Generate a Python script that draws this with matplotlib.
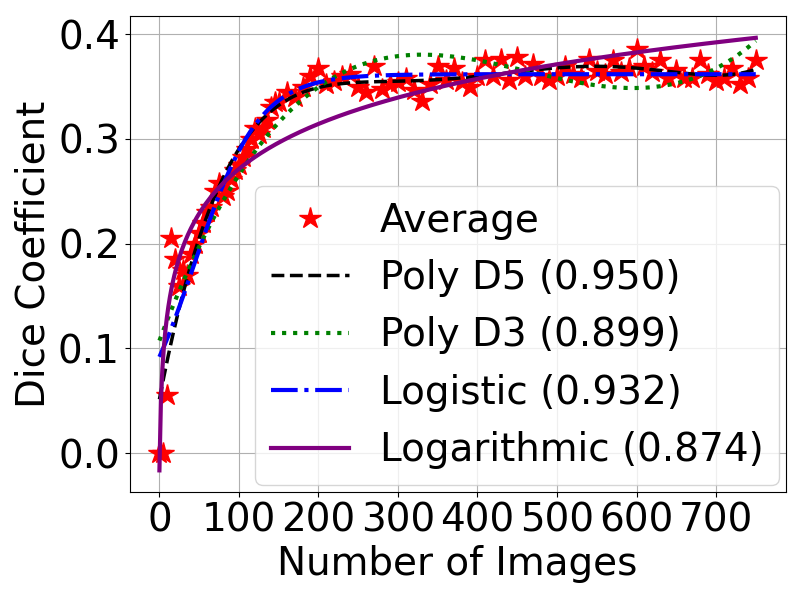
import numpy as np
import matplotlib
matplotlib.use("Agg")
import matplotlib.pyplot as plt

# average dice per number of training images
images_early = [0, 5, 10, 15, 20, 25, 30, 35, 40, 45, 50, 55, 60, 65, 70,
                75, 80, 85, 90, 95, 100, 105, 110, 115, 120, 125, 130, 135, 140, 145]
dice_early = [0.0, 0.0, 0.055, 0.205, 0.185, 0.16, 0.175, 0.17, 0.19, 0.20,
              0.21, 0.22, 0.23, 0.235, 0.25, 0.258, 0.245, 0.25, 0.262, 0.27,
              0.275, 0.283, 0.29, 0.30, 0.31, 0.305, 0.31, 0.318, 0.33, 0.335]

images_late = list(range(150, 751, 10))
dice_late = [0.335, 0.345, 0.34, 0.35, 0.36, 0.368, 0.352, 0.355, 0.36, 0.362,
             0.35, 0.345, 0.37, 0.348, 0.352, 0.354, 0.358, 0.347, 0.336, 0.352,
             0.37, 0.356, 0.368, 0.354, 0.35, 0.36, 0.375, 0.36, 0.376, 0.356,
             0.378, 0.36, 0.372, 0.36, 0.356, 0.36, 0.37, 0.362, 0.358, 0.376,
             0.365, 0.362, 0.375, 0.364, 0.368, 0.386, 0.37, 0.364, 0.375, 0.358,
             0.366, 0.358, 0.358, 0.375, 0.362, 0.355, 0.358, 0.368, 0.352, 0.358,
             0.375]

# R^2 of each fit, as printed in the legend
r2_labels = {"poly5": "0.950", "poly3": "0.899", "logistic": "0.932", "log": "0.874"}

x = np.array(images_early + images_late, dtype=float)
y = np.array(dice_early + dice_late)
xs = np.linspace(0, 750, 400)

# polynomial fits
p5 = np.polyfit(x / 750, y, 5)
p3 = np.polyfit(x / 750, y, 3)

# logistic fit (brute force grid, L solved in closed form)
best = None
for k in np.linspace(0.005, 0.06, 111):
    for x0 in np.linspace(0, 150, 151):
        s = 1 / (1 + np.exp(-k * (x - x0)))
        L = np.sum(y * s) / np.sum(s * s)
        err = np.sum((y - L * s) ** 2)
        if best is None or err < best[0]:
            best = (err, L, k, x0)
_, L, k, x0 = best
logistic = L / (1 + np.exp(-k * (xs - x0)))

# logarithmic fit y = a + b*ln(x+1)
A = np.vstack([np.ones_like(x), np.log(x + 1)]).T
a, b = np.linalg.lstsq(A, y, rcond=None)[0]
logfit = a + b * np.log(xs + 1)

plt.rcParams['font.size'] = 28
fig, ax = plt.subplots(figsize=(8, 6), dpi=100)
fig.subplots_adjust(left=0.162, right=0.982, top=0.973, bottom=0.18)

ax.plot(x, y, '*', color='red', markersize=16, label='Average')
ax.plot(xs, np.polyval(p5, xs / 750), '--', color='black', lw=2.5,
        label=f'Poly D5 ({r2_labels["poly5"]})')
ax.plot(xs, np.polyval(p3, xs / 750), ':', color='green', lw=3,
        label=f'Poly D3 ({r2_labels["poly3"]})')
ax.plot(xs, logistic, '-.', color='blue', lw=3,
        label=f'Logistic ({r2_labels["logistic"]})')
ax.plot(xs, logfit, '-', color='purple', lw=3,
        label=f'Logarithmic ({r2_labels["log"]})')

ax.set_xlabel('Number of Images')
ax.set_ylabel('Dice Coefficient')
ax.set_xticks(range(0, 701, 100))
ax.set_yticks([0.0, 0.1, 0.2, 0.3, 0.4])
ax.grid(True)
ax.legend(loc='lower right', bbox_to_anchor=(0.99, 0.015), borderaxespad=0)

fig.savefig('out.png')
